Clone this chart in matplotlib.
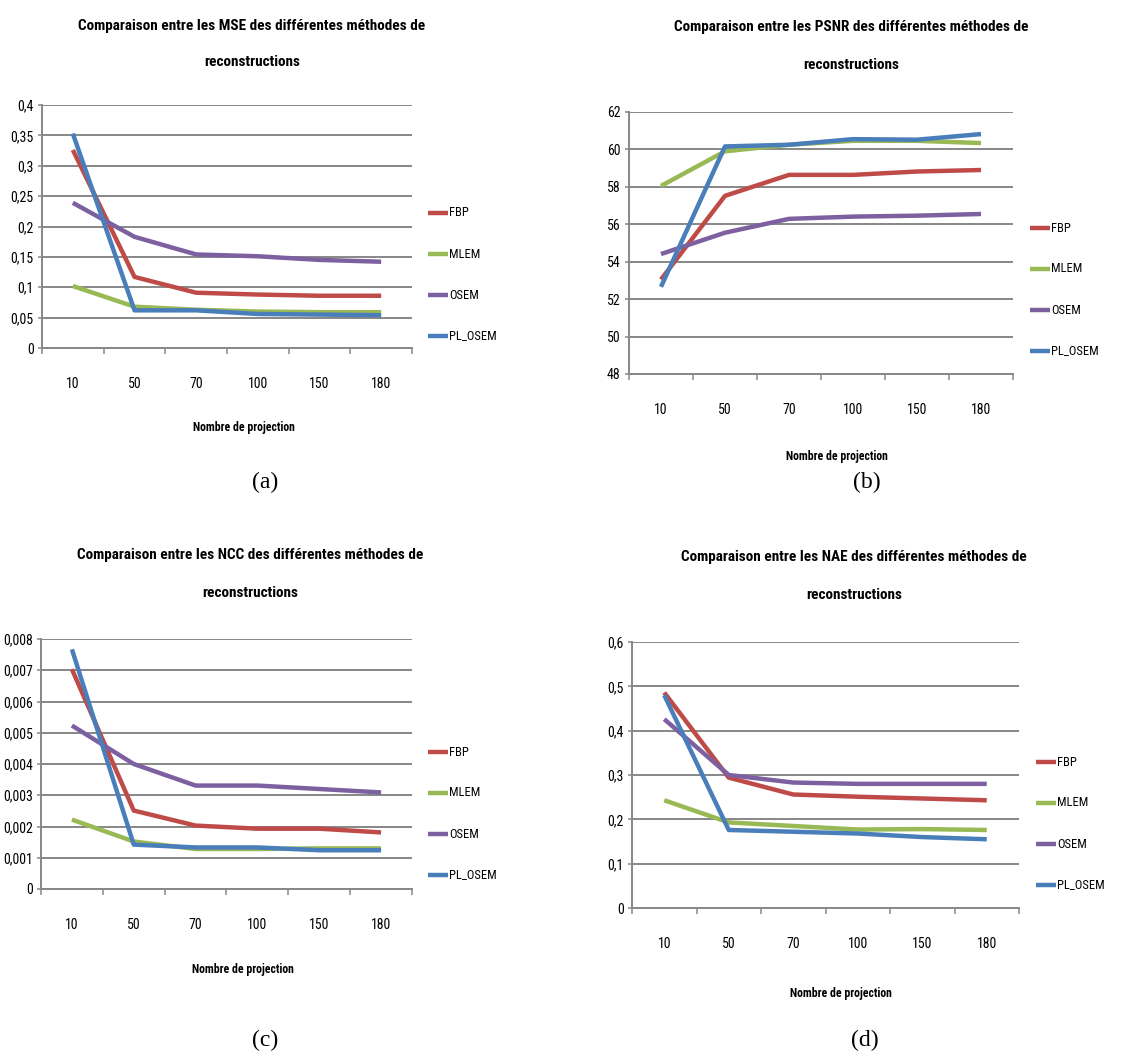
import matplotlib
matplotlib.use("Agg")
import matplotlib.pyplot as plt
from matplotlib import font_manager

# Categories (number of projections)
projections = ["10", "50", "70", "100", "150", "180"]
methods = ["FBP", "MLEM", "OSEM", "PL_OSEM"]

# MSE
mse_fbp = [0.326, 0.117, 0.091, 0.088, 0.086, 0.086]
mse_mlem = [0.102, 0.068, 0.063, 0.060, 0.059, 0.059]
mse_osem = [0.239, 0.183, 0.154, 0.151, 0.145, 0.142]
mse_plosem = [0.353, 0.062, 0.062, 0.056, 0.055, 0.054]

# PSNR
psnr_fbp = [53.05, 57.52, 58.64, 58.64, 58.82, 58.90]
psnr_mlem = [58.05, 59.90, 60.25, 60.46, 60.46, 60.34]
psnr_osem = [54.41, 55.55, 56.29, 56.41, 56.46, 56.55]
psnr_plosem = [52.66, 60.16, 60.25, 60.55, 60.52, 60.82]

# NCC
ncc_fbp = [0.00703, 0.00251, 0.00203, 0.00193, 0.00193, 0.00181]
ncc_mlem = [0.00222, 0.00152, 0.00128, 0.00128, 0.00130, 0.00130]
ncc_osem = [0.00523, 0.00400, 0.00331, 0.00331, 0.00320, 0.00309]
ncc_plosem = [0.00767, 0.00142, 0.00133, 0.00133, 0.00124, 0.00124]

# NAE
nae_fbp = [0.486, 0.294, 0.256, 0.251, 0.247, 0.243]
nae_mlem = [0.243, 0.193, 0.185, 0.177, 0.178, 0.176]
nae_osem = [0.426, 0.300, 0.283, 0.280, 0.280, 0.280]
nae_plosem = [0.480, 0.176, 0.172, 0.168, 0.160, 0.155]

colors = ["#BE4B48", "#98B954", "#7D60A0", "#4A7EBB"]


def pick_sans():
    """Prefer a narrow sans face; otherwise fall back to Liberation Sans."""
    entries = font_manager.fontManager.ttflist
    names = {f.name for f in entries}
    for n in ["Liberation Sans Narrow", "Roboto Condensed", "Open Sans Condensed",
              "Noto Sans Condensed", "DejaVu Sans Condensed", "Arial Narrow"]:
        if n in names:
            return dict(family=n), True
    narrow = ("condensed", "semi-condensed", "extra-condensed", "ultra-condensed")
    for fam in ["Roboto", "Noto Sans", "Open Sans", "DejaVu Sans"]:
        if any(f.name == fam and str(f.stretch) in narrow for f in entries):
            return dict(family=fam, stretch="condensed"), True
    return dict(family="Liberation Sans"), False


SANS, NARROW = pick_sans()
if NARROW:
    FS_TICK, FS_LEG, FS_TITLE, FS_XLAB = 10, 9, 11, 8.5
else:
    FS_TICK, FS_LEG, FS_TITLE, FS_XLAB = 8.5, 7.5, 9.5, 7.5
SERIF = dict(family=["Liberation Serif", "DejaVu Serif"])

W, H = 1137, 1057
fig = plt.figure(figsize=(W / 100, H / 100), dpi=100)


def px_axes(left, top, right, bottom):
    return fig.add_axes([left / W, 1 - bottom / H, (right - left) / W, (bottom - top) / H])


def fmt(v, nd):
    s = f"{v:.{nd}f}".rstrip("0").rstrip(".") if nd > 0 else f"{v:.0f}"
    return s.replace(".", ",")


panels = [
    dict(box=(42, 105, 412, 348), series=[mse_fbp, mse_mlem, mse_osem, mse_plosem],
         yticks=[0, 0.05, 0.1, 0.15, 0.2, 0.25, 0.3, 0.35, 0.4], nd=2,
         title="MSE", tcx=252, ty=(26, 62), xl=(244, 427), leg=(428, 213),
         tag="(a)", tag_xy=(265, 482)),
    dict(box=(629, 112, 1013, 374), series=[psnr_fbp, psnr_mlem, psnr_osem, psnr_plosem],
         yticks=[48, 50, 52, 54, 56, 58, 60, 62], nd=0,
         title="PSNR", tcx=851, ty=(27, 65), xl=(837, 457), leg=(1030, 228),
         tag="(b)", tag_xy=(867, 482)),
    dict(box=(41, 639, 412, 889), series=[ncc_fbp, ncc_mlem, ncc_osem, ncc_plosem],
         yticks=[0, 0.001, 0.002, 0.003, 0.004, 0.005, 0.006, 0.007, 0.008], nd=3,
         title="NCC", tcx=250, ty=(555, 593), xl=(243, 970), leg=(428, 752),
         tag="(c)", tag_xy=(265, 1040)),
    dict(box=(632, 642, 1019, 908), series=[nae_fbp, nae_mlem, nae_osem, nae_plosem],
         yticks=[0, 0.1, 0.2, 0.3, 0.4, 0.5, 0.6], nd=1,
         title="NAE", tcx=854, ty=(557, 595), xl=(841, 993), leg=(1036, 762),
         tag="(d)", tag_xy=(865, 1040)),
]

grid_c = "#878787"
x = list(range(len(projections)))

for p in panels:
    l, t, r, b = p["box"]
    ax = px_axes(l, t, r, b)
    for s, c, m in zip(p["series"], colors, methods):
        ax.plot(x, s, color=c, lw=3.2, solid_capstyle="butt", solid_joinstyle="round",
                label=m, zorder=3)
    yt = p["yticks"]
    ax.set_ylim(yt[0], yt[-1])
    ax.set_yticks(yt)
    ax.set_yticklabels([fmt(v, p["nd"]) for v in yt], fontsize=FS_TICK, **SANS)
    ax.set_xlim(-0.5, len(x) - 0.5)
    ax.set_xticks([i - 0.5 for i in range(len(x) + 1)])
    ax.set_xticklabels([])
    ax.set_xticks(x, minor=True)
    ax.set_xticklabels(projections, minor=True, fontsize=FS_TICK, **SANS)
    ax.tick_params(axis="x", which="major", length=4, width=1.1, color=grid_c, direction="out")
    ax.tick_params(axis="x", which="minor", length=0, pad=21)
    ax.tick_params(axis="y", length=3, width=1.1, color=grid_c, pad=3)
    ax.yaxis.grid(True, color=grid_c, lw=1.4)
    ax.set_axisbelow(True)
    for side in ("top", "right"):
        ax.spines[side].set_visible(False)
    for side in ("left", "bottom"):
        ax.spines[side].set_color(grid_c)
        ax.spines[side].set_linewidth(1.4)
    ax.set_facecolor("none")

    # legend placed by hand in pixel space
    lx, ly = p["leg"]
    for k, (c, m) in enumerate(zip(colors, methods)):
        yy = ly + 41 * k
        fig.add_artist(plt.Line2D([lx / W, (lx + 20) / W], [1 - yy / H, 1 - yy / H],
                                  color=c, lw=3.2, solid_capstyle="butt"))
        fig.text((lx + 21) / W, 1 - yy / H, m, fontsize=FS_LEG, ha="left", va="center", **SANS)

    fig.text(p["tcx"] / W, 1 - p["ty"][0] / H,
             f"Comparaison entre les {p['title']} des différentes méthodes de",
             fontsize=FS_TITLE, fontweight="bold", ha="center", va="center", **SANS)
    fig.text(p["tcx"] / W, 1 - p["ty"][1] / H, "reconstructions",
             fontsize=FS_TITLE, fontweight="bold", ha="center", va="center", **SANS)
    fig.text(p["xl"][0] / W, 1 - p["xl"][1] / H, "Nombre de projection",
             fontsize=FS_XLAB, fontweight="bold", ha="center", va="center", **SANS)
    fig.text(p["tag_xy"][0] / W, 1 - p["tag_xy"][1] / H, p["tag"],
             fontsize=17, ha="center", va="center", **SERIF)

fig.savefig("out.png", dpi=100)
